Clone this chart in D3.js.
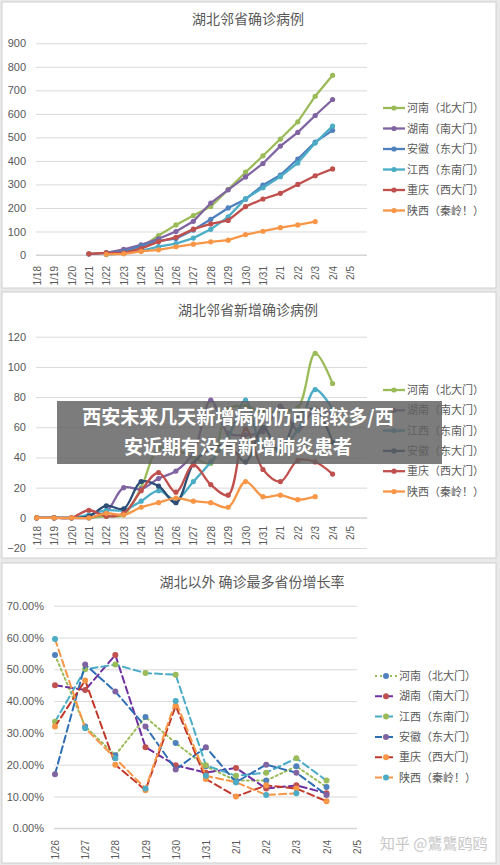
<!DOCTYPE html>
<html><head><meta charset="utf-8">
<script src="https://cdn.jsdelivr.net/npm/d3@7"></script>
<style>body{margin:0;background:#e9e9e9;font-family:"Noto Sans CJK SC","Noto Sans",sans-serif}</style>
</head><body><svg id="c" width="500" height="865"></svg>
<script>
const dates1 = ["1/18","1/19","1/20","1/21","1/22","1/23","1/24","1/25","1/26","1/27","1/28","1/29","1/30","1/31","2/1","2/2","2/3","2/4","2/5"];
const names1 = ["河南（北大门）","湖南（南大门）","安徽（东大门）","江西（东南门）","重庆（西大门）","陕西（秦岭！）"];
const colors1 = ["#9bbb59","#8064a2","#4f81bd","#4bacc6","#c0504d","#f79646"];
const henanCum  = [null,null,null,5,9,20,32,83,128,168,206,278,352,422,493,566,675,764];
const hunanCum  = [null,null,null,4,9,24,43,69,100,143,221,277,332,389,463,521,593,661];
const anhuiCum  = [null,null,null,null,9,15,39,60,70,106,152,200,237,297,340,408,480,530];
const jiangxiCum= [null,null,null,null,2,7,18,36,48,72,109,162,240,286,333,391,476,548];
const cqCum     = [null,null,null,5,9,9,27,57,75,110,132,147,206,238,262,300,337,366];
const sxCum     = [null,null,null,null,3,5,15,22,35,46,56,63,87,101,116,128,142,null];
const names2 = ["河南（北大门）","湖南（南大门）","江西（东南门）","安徽（东大门）","重庆（西大门）","陕西（秦岭！）"];
const colors2 = ["#9bbb59","#8064a2","#4bacc6","#2c4d75","#c0504d","#f79646"];
const henanNew  = [0,0,0,0,1,2,20,46,45,40,36,72,74,70,71,73,109,89];
const hunanNew  = [0,0,0,0,4,20,19,26,31,43,78,56,55,57,74,58,72,68];
const jiangxiNew= [0,0,0,2,5,5,11,18,12,24,37,53,78,46,47,58,85,72];
const anhuiNew  = [0,0,0,1,8,6,24,21,10,36,46,48,37,60,43,68,72,50];
const cqNew     = [0,0,0,5,1,3,18,30,17,35,22,15,59,32,24,38,37,29];
const sxNew     = [0,0,0,0,3,2,7,10,13,11,10,7,24,14,15,12,14,null];
const dates3 = ["1/26","1/27","1/28","1/29","1/30","1/31","2/1","2/2","2/3","2/4","2/5"];
const names3 = ["河南（北大门）","湖南（南大门）","江西（东南门）","安徽（东大门）","重庆（西大门)","陕西（秦岭！）"];
const lineColors3 = ["#9bbb59","#7030a0","#4bacc6","#2e6eb5","#c0392b","#f79646"];
const markColors3 = ["#4f81bd","#c0504d","#9bbb59","#8064a2","#f79646","#4bacc6"];
const dash3 = ["2,3","7,4","7,4","7,4","7,4","7,4"];
const henanG  = [54.5,32,23,35,26.8,19.5,15,15,19.5,13];
const hunanG  = [45,43.5,54.5,25.5,19.8,17.5,19,12.5,13.5,11];
const jiangxiG= [33.5,50,51.5,48.8,48.3,19.8,16.5,17.5,22,15];
const anhuiG  = [17,51.5,43,32,18.5,25.5,14.5,20,17.5,10.5];
const cqG     = [32,46.5,20,12,38.5,15.5,10,13.5,12.5,8.5];
const sxG     = [59.5,31.5,22,12.5,40,16.5,14.5,10.5,11,null];

const svg = d3.select("#c");
const font = '"Noto Sans CJK SC",sans-serif';

function panel(y0,h){ svg.append("rect").attr("x",2).attr("y",y0).attr("width",494).attr("height",h).attr("fill","#fff").attr("stroke","#d0d0d0"); }
panel(2,286); panel(292,266); panel(563,300);

function chart(o){
  const x = d3.scalePoint().domain(o.dates).range(o.xr);
  const y = d3.scaleLinear().domain(o.ydom).range(o.yr);
  const g = svg.append("g");
  g.append("text").attr("x",o.tx).attr("y",o.ty).attr("text-anchor","middle").attr("font-size",14).attr("fill","#595959").attr("font-family",font).text(o.title);
  const ax = g.append("g").attr("transform",`translate(${o.gx[0]},0)`)
    .call(d3.axisLeft(y).tickValues(o.ticks).tickSize(o.gx[0]-o.gx[1]).tickFormat(o.fmt));
  ax.select(".domain").remove();
  ax.selectAll("line").attr("stroke","#d9d9d9");
  ax.selectAll("text").attr("fill","#595959").attr("font-size",11).attr("font-family","Liberation Sans, sans-serif").attr("x",-o.lpad);
  g.append("line").attr("x1",o.gx[0]).attr("x2",o.gx[1]).attr("y1",y(o.base)).attr("y2",y(o.base)).attr("stroke","#d0d0d0");
  const xa = g.append("g").attr("transform",`translate(0,${o.xaxY})`).call(d3.axisBottom(x).tickSize(0));
  xa.select(".domain").remove();
  xa.selectAll("text").attr("fill","#595959").attr("font-size",10).attr("font-family","Liberation Sans, sans-serif")
    .attr("transform","rotate(-90)").attr("text-anchor","end").attr("dx",0).attr("dy","0.35em").attr("x",-4).attr("y",0);
  o.series.forEach((s,i)=>{
    const pts = s.map((v,j)=>[j,v]).filter(p=>p[1]!=null);
    const line = d3.line().x(p=>x(o.dates[p[0]])).y(p=>y(p[1])).curve(o.curve);
    g.append("path").attr("d",line(pts)).attr("fill","none").attr("stroke",o.lc[i]).attr("stroke-width",o.lw)
      .attr("stroke-dasharray",o.dash?o.dash[i]:null).attr("stroke-linecap","round");
    g.selectAll(null).data(pts).enter().append("circle").attr("cx",p=>x(o.dates[p[0]])).attr("cy",p=>y(p[1])).attr("r",o.mr).attr("fill",o.mc[i]);
    const ly = o.ly + i*o.lstep;
    g.append("line").attr("x1",o.lx).attr("x2",o.lx+22).attr("y1",ly).attr("y2",ly).attr("stroke",o.lc[i]).attr("stroke-width",o.lw).attr("stroke-dasharray",o.dash?o.dash[i]:null);
    g.append("circle").attr("cx",o.lx+11).attr("cy",ly).attr("r",o.mr).attr("fill",o.mc[i]);
    g.append("text").attr("x",o.lx+24).attr("y",ly+4).attr("font-size",11).attr("fill","#595959").attr("font-family",font).text(o.names[i]);
  });
}

chart({dates:dates1,xr:[36.7,350],ydom:[0,900],yr:[255,43.3],ticks:d3.range(0,901,100),fmt:d3.format("d"),
  gx:[36,367],lpad:10,base:0,xaxY:262,title:"湖北邻省确诊病例",tx:248,ty:24,mr:2.6,
  series:[henanCum,hunanCum,anhuiCum,jiangxiCum,cqCum,sxCum],names:names1,lc:colors1,mc:colors1,lw:2.3,
  curve:d3.curveLinear,lx:383,ly:108,lstep:20.5});

chart({dates:dates1,xr:[36.7,350],ydom:[-20,120],yr:[548,336.7],ticks:d3.range(-20,121,20),fmt:d3.format("d"),
  gx:[36,367],lpad:10,base:0,xaxY:522,title:"湖北邻省新增确诊病例",tx:248,ty:315,mr:2.6,
  series:[henanNew,hunanNew,jiangxiNew,anhuiNew,cqNew,sxNew],names:names2,lc:colors2,mc:colors2,lw:2.3,
  curve:d3.curveCatmullRom,lx:383,ly:390,lstep:20.3});

chart({dates:dates3,xr:[55,356.7],ydom:[0,70],yr:[828.3,605.7],ticks:d3.range(0,71,10),fmt:d=>d.toFixed(2)+"%",
  gx:[54,357],lpad:10,base:0,xaxY:836,title:"湖北以外 确诊最多省份增长率",tx:252,ty:587,mr:3,
  series:[henanG,hunanG,jiangxiG,anhuiG,cqG,sxG],names:names3,lc:lineColors3,mc:markColors3,dash:dash3,lw:2,
  curve:d3.curveLinear,lx:375,ly:676,lstep:20.3});

svg.append("text").attr("x",380).attr("y",849).attr("font-size",15).attr("fill","#c8c8c8").attr("font-family",font).text("知乎 @鸗鸗鸥鸥");
svg.append("rect").attr("x",57).attr("y",401).attr("width",385).attr("height",63).attr("fill","rgba(95,95,95,0.82)");
svg.append("text").attr("x",238).attr("y",424).attr("text-anchor","middle").attr("font-size",19).attr("font-weight","bold").attr("fill","#fff").attr("font-family",font).text("西安未来几天新增病例仍可能较多/西");
svg.append("text").attr("x",238).attr("y",454).attr("text-anchor","middle").attr("font-size",19).attr("font-weight","bold").attr("fill","#fff").attr("font-family",font).text("安近期有没有新增肺炎患者");
</script></body></html>
